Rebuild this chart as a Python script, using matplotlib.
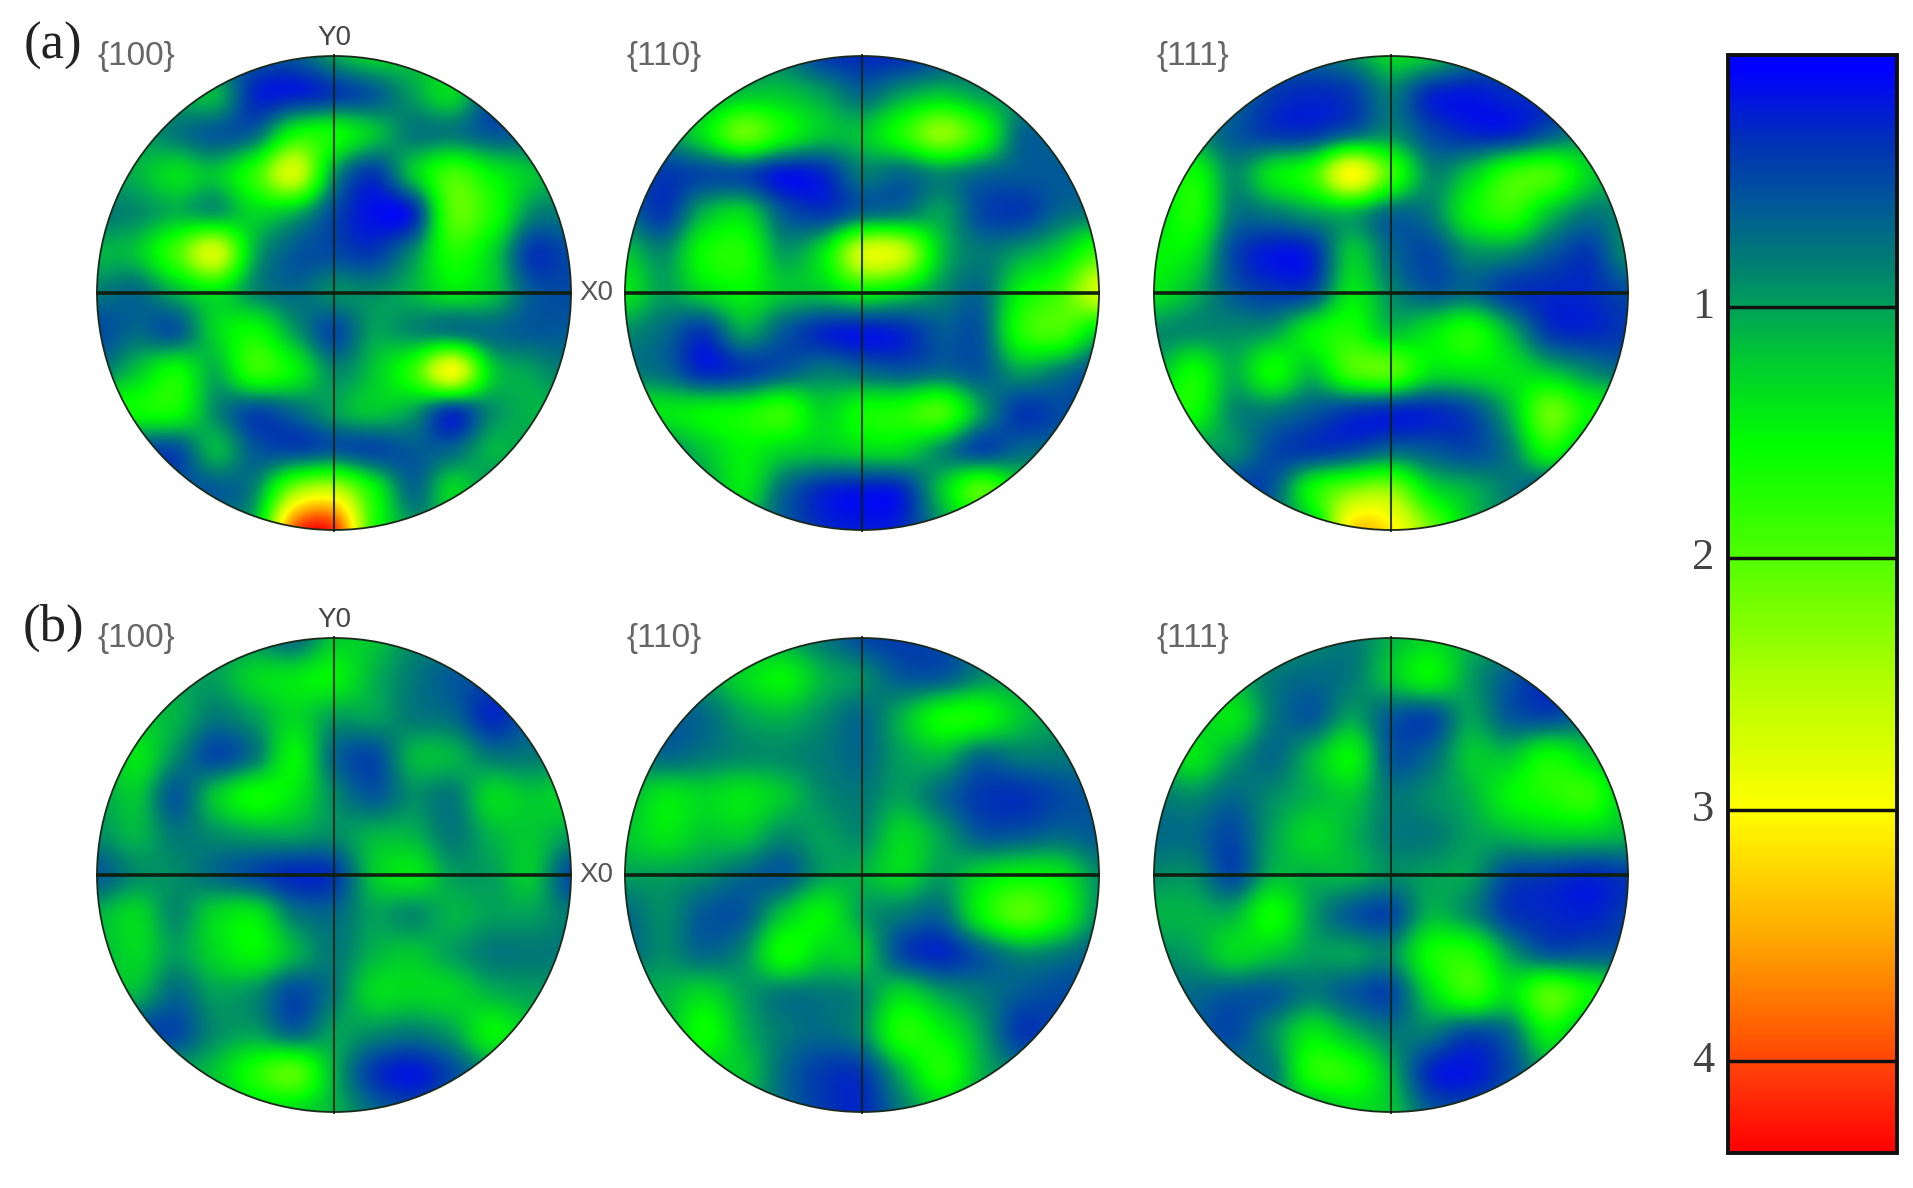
#!/usr/bin/env python3
# -*- coding: utf-8 -*-
import matplotlib
matplotlib.use('Agg')
import matplotlib.pyplot as plt
from matplotlib.colors import LinearSegmentedColormap, Normalize
from matplotlib.cm import ScalarMappable
from matplotlib.patches import Circle
import numpy as np

W, H = 1913, 1188

# pole density on a 13 x 13 grid (top row first)
a_100 = [
	[.6, .6, .6, .6, .6, .6, 1.0, 1.3, 1.2, 1.2, .8, .6, .6],
	[1.0, 1.0, 1.0, 1.1, .3, .25, .4, .6, 1.0, 1.3, .5, .4, .4],
	[1.0, 1.0, .8, .6, .7, 1.6, 1.6, 1.2, .8, .8, .6, .6, .6],
	[1.0, 1.1, 1.35, 1.2, 1.8, 2.7, 1.0, .4, 1.2, 1.9, 1.5, 1.2, 1.0],
	[.8, .9, 1.1, 1.0, 1.3, 1.1, .5, .15, .3, 2.0, 1.7, .9, .8],
	[1.1, 1.2, 1.9, 2.7, 1.1, .6, .5, .4, .9, 1.7, 1.3, .4, .5],
	[.8, .7, 1.1, 1.4, .9, .7, .9, .9, 1.1, 1.4, 1.2, .6, .5],
	[.5, .7, .6, 1.3, 1.6, 1.0, .5, 1.0, .9, .8, .7, .6, .6],
	[.8, 1.2, 1.6, 1.1, 1.8, 1.5, .9, 1.2, 1.8, 2.9, 1.3, 1.0, .8],
	[1.6, 1.6, 1.6, .9, .5, .7, 1.0, 1.2, 1.0, .4, .9, 1.1, 1.1],
	[.5, .5, .5, 1.1, .6, .5, .6, .5, .6, .7, 1.1, 1.0, 1.0],
	[.6, .6, .6, .6, .9, 2.3, 2.6, 1.6, .7, 1.3, .9, .9, .9],
	[.9, .9, .9, .9, 1.2, 3.9, 4.1, 1.8, 1.0, 1.0, .9, .9, .9],
]
a_110 = [
	[.8, .8, .8, .8, .8, .4, .3, .3, .5, .7, .8, .8, .8],
	[.9, .9, 1.0, 1.2, 1.2, 1.0, .7, 1.0, 1.2, 1.0, .9, .8, .8],
	[.9, .9, 1.4, 2.1, 1.6, 1.2, 1.2, 1.7, 2.3, 1.7, .7, .7, .7],
	[.6, .4, .5, .5, .2, .3, .8, .7, .9, .7, .6, .6, .6],
	[.7, .4, 1.1, 1.3, .6, .4, .7, .8, 1.0, .5, .4, .7, .8],
	[1.2, .9, 1.6, 1.7, 1.0, 1.4, 2.7, 2.6, 1.2, .8, 1.0, 1.3, 1.9],
	[1.4, 1.0, 1.3, 1.5, 1.2, 1.2, 1.5, 1.3, .9, .7, 1.5, 1.9, 2.7],
	[.9, .7, .4, 1.0, .6, .3, .2, .3, .6, .6, 1.7, 1.9, 1.3],
	[.8, .7, .3, .4, .6, .8, .7, .6, .7, .6, 1.0, .8, .5],
	[1.4, 1.4, 1.5, 1.6, 1.8, 1.3, 1.6, 1.7, 1.9, 1.0, .4, .5, .5],
	[.9, .9, 1.2, 1.5, 1.3, 1.2, 1.3, 1.3, .9, .5, .7, .7, .7],
	[1.0, 1.0, 1.0, 1.4, .7, .3, .2, .3, 1.2, 2.0, 1.3, 1.0, 1.0],
	[1.0, 1.0, 1.0, 1.0, .6, .3, .2, .3, .9, 1.2, 1.0, 1.0, 1.0],
]
a_111 = [
	[.7, .7, .7, .7, .7, .9, 1.3, 1.2, .8, .6, .5, .5, .5],
	[.8, .8, .7, .4, .3, .4, .8, .3, .2, .3, .3, .3, .3],
	[.9, .9, .6, .4, .4, .7, .9, .5, .3, .3, .6, .9, .9],
	[1.2, 1.6, .9, 1.4, 1.8, 3.0, 1.9, .9, 1.2, 1.8, 1.9, 1.3, 1.0],
	[1.3, 1.7, .8, .8, 1.0, 1.1, .7, .8, 1.5, 1.8, 1.2, .8, .9],
	[1.5, 1.4, .5, .2, .3, 1.2, .7, .5, .9, .9, .6, .4, .9],
	[1.4, 1.1, .6, .4, .5, 1.4, .9, .6, .7, .4, .3, .3, .5],
	[.9, .9, .9, 1.0, 1.5, 1.7, 1.2, 1.4, 1.7, 1.1, .4, .3, .4],
	[1.1, 1.6, 1.1, 1.6, 1.2, 1.9, 2.0, 1.4, 1.4, 1.4, 1.2, .9, .7],
	[1.6, 1.6, .9, .8, .6, .4, .3, .3, .5, 1.1, 2.1, 1.6, 1.6],
	[.9, .9, .9, .5, .4, .5, .7, .6, .5, .8, 1.6, 1.0, 1.0],
	[.5, .5, .4, .6, 1.6, 2.2, 2.3, 1.4, 1.1, .8, .5, .5, .5],
	[.8, .8, .8, .8, 1.2, 3.2, 3.1, 2.2, 1.2, .8, .7, .7, .7],
]
b_100 = [
	[.9, .9, .9, .9, .9, .7, 1.2, 1.2, .9, .8, .7, .7, .7],
	[1.0, 1.0, 1.0, 1.0, 1.3, 1.4, 1.5, 1.1, .8, .6, .5, .5, .5],
	[1.2, 1.2, 1.1, .8, 1.0, 1.3, 1.0, 1.0, .8, .7, .3, .6, .6],
	[1.0, 1.4, .9, .5, .8, 1.5, .7, .5, 1.1, 1.1, .8, .8, .9],
	[1.0, 1.2, .6, 1.2, 1.6, 1.4, .9, .6, .9, .8, 1.3, 1.2, 1.3],
	[.9, 1.1, .8, .9, 1.0, 1.0, .9, 1.1, 1.1, .8, 1.1, 1.2, 1.0],
	[.6, .9, .9, .7, .5, .3, .4, 1.2, 1.4, 1.0, 1.0, 1.2, .5],
	[1.1, 1.3, .9, 1.3, 1.4, .8, .7, 1.0, .9, 1.1, 1.0, 1.0, .8],
	[1.1, 1.3, 1.0, 1.3, 1.5, 1.1, .8, 1.1, 1.2, 1.0, .8, .8, .8],
	[1.1, 1.1, .7, 1.0, .9, .5, .8, 1.3, 1.3, 1.3, 1.1, 1.0, 1.0],
	[.5, .5, .5, .9, 1.0, .7, 1.0, .9, .8, 1.0, 1.5, 1.2, 1.2],
	[1.0, 1.0, 1.0, 1.2, 1.7, 2.0, 1.1, .4, .2, .5, .9, .9, .9],
	[1.0, 1.0, 1.0, 1.0, 1.3, 1.3, 1.1, .7, .5, .7, .9, .9, .9],
]
b_110 = [
	[1.0, 1.0, 1.0, 1.0, 1.0, .8, .5, .4, .5, .7, .9, .9, .9],
	[.8, .9, 1.0, 1.3, 1.5, 1.1, .9, .6, .6, .9, 1.0, 1.0, 1.0],
	[.6, .6, .7, 1.0, 1.1, .9, .7, 1.1, 1.6, 1.6, 1.2, 1.0, 1.0],
	[.9, .7, .8, .9, .9, .8, .7, 1.0, 1.1, .7, .8, .8, .8],
	[1.1, 1.4, 1.3, 1.4, 1.2, .9, .8, 1.0, .7, .4, .35, .5, .6],
	[1.2, 1.4, 1.2, 1.2, .9, 1.0, .9, 1.3, 1.0, .6, .6, .7, .6],
	[1.0, 1.0, .9, .7, .6, 1.0, 1.1, 1.3, 1.0, 1.3, 1.5, 1.4, .9],
	[.7, .9, .6, .6, 1.2, 1.5, 1.0, .8, .7, 1.5, 2.0, 1.6, .9],
	[.7, .9, .7, .9, 1.6, 1.3, 1.2, .5, .3, .6, .9, .8, .6],
	[1.1, 1.1, 1.3, 1.0, .8, .8, .9, 1.3, 1.0, .8, .6, .5, .5],
	[1.1, 1.1, 1.6, 1.1, .8, .7, .9, 1.7, 1.5, 1.0, .4, .5, .5],
	[1.2, 1.2, 1.2, 1.2, .7, .4, .4, 1.1, 1.7, 1.1, .8, .8, .8],
	[1.0, 1.0, 1.0, 1.0, .7, .4, .3, .8, 1.2, 1.0, .9, .9, .9],
]
b_111 = [
	[1.0, 1.0, 1.0, 1.0, .9, .8, 1.1, 1.3, 1.1, .9, .6, .5, .5],
	[1.1, 1.1, 1.1, .8, .7, .8, 1.2, 1.5, 1.0, .6, .3, .4, .4],
	[1.2, 1.2, 1.4, .8, .6, 1.0, .6, .5, 1.0, .6, .5, .7, .7],
	[1.1, 1.4, 1.0, .7, 1.1, 1.5, .6, .7, 1.2, 1.2, 1.6, 1.3, 1.0],
	[.8, .9, .7, .9, 1.1, 1.2, .8, .9, 1.1, 1.5, 1.7, 1.8, 1.2],
	[.7, .7, .5, 1.0, 1.3, 1.1, .8, .8, 1.0, 1.1, 1.2, 1.2, 1.1],
	[.9, .9, .5, 1.1, 1.1, 1.1, .9, 1.0, 1.0, .5, .4, .3, .4],
	[1.1, 1.1, 1.1, 1.6, 1.0, .6, .5, 1.1, .9, .4, .3, .25, .4],
	[.9, 1.0, 1.3, 1.2, 1.0, 1.0, .9, 1.6, 1.7, 1.0, .6, .6, .6],
	[.7, .7, .6, .6, .8, .6, .5, 1.3, 1.8, 1.4, 2.0, 1.6, 1.4],
	[.6, .6, .5, .9, 1.4, 1.1, .8, .8, .5, .7, 1.5, 1.0, 1.0],
	[.8, .8, .8, .8, 1.7, 1.7, 1.1, .3, .2, .5, 1.0, 1.0, 1.0],
	[.9, .9, .9, .9, 1.0, 1.3, 1.2, .6, .5, .7, .9, .9, .9],
]

# colour scale, top of the bar to the bottom
scale_values = [0.0, .05, .35, .6, .85, 1.0, 1.2, 1.55, 2.0, 2.5, 3.0, 3.5, 3.9, 4.05, 4.365]
scale_colors = ['#0000ff', '#0000ff', '#0032b4', '#005a96', '#00826e', '#00a05a', '#00c832',
	'#00ff00', '#50ff00', '#b4ff00', '#ffff00', '#ffaa00', '#ff5a00', '#ff3c0a', '#ff0000']
scale_ticks = [1, 2, 3, 4]

row_labels = ['(a)', '(b)']
pole_labels = ['{100}', '{110}', '{111}']
panels = [[a_100, a_110, a_111], [b_100, b_110, b_111]]
center_x = [334, 862, 1391]
center_y = [293, 875]
radius = 237


def px_axes(fig, left, top, width, height):
	return fig.add_axes([left / W, 1 - (top + height) / H, width / W, height / H])


def fig_text(fig, x, y, s, **kw):
	fig.text(x / W, 1 - y / H, s, ha='center', va='center', **kw)


if __name__ == '__main__':
	fig = plt.figure(figsize=(W / 100, H / 100), dpi=100, facecolor='white')

	vmax = scale_values[-1]
	nodes = [(v / vmax, c) for v, c in zip(scale_values, scale_colors)]
	cmap = LinearSegmentedColormap.from_list('poles', nodes, N=512)
	norm = Normalize(0, vmax)

	for j, row in enumerate(panels):
		for i, grid in enumerate(row):
			pad = radius + 6
			ax = px_axes(fig, center_x[i] - pad, center_y[j] - pad, 2 * pad, 2 * pad)
			ax.axis('off')
			half = 1 + 1 / 12
			# catrom goes through the grid values, bicubic would flatten the peaks
			im = ax.imshow(np.array(grid), cmap=cmap, norm=norm, interpolation='catrom',
				extent=[-half, half, -half, half], origin='upper', aspect='auto')
			disc = Circle((0, 0), 1, transform=ax.transData, fc='none', ec='none')
			ax.add_patch(disc)
			im.set_clip_path(disc)
			ax.set_xlim(-pad / radius, pad / radius)
			ax.set_ylim(-pad / radius, pad / radius)
			ax.add_patch(Circle((0, 0), 1, fc='none', ec='#1a2a1a', lw=1.3))
			ax.plot([-1.005, 1.005], [0, 0], color='#102010', lw=2.6, solid_capstyle='butt')
			ax.plot([0, 0], [-1.01, 1.01], color='#102010', lw=1.5, solid_capstyle='butt', alpha=.85)

			fig_text(fig, center_x[i] - 198, center_y[j] - 237, pole_labels[i],
				family='Liberation Sans', fontsize=24, color='#666666')
		fig_text(fig, center_x[0] + 262, center_y[j], 'X0', family='Liberation Sans',
			fontsize=20, color='#555555')
		fig_text(fig, center_x[0], center_y[j] - 255, 'Y0', family='Liberation Sans',
			fontsize=20, color='#444444')
		fig_text(fig, 53, center_y[j] - 247, row_labels[j], family='Liberation Serif',
			fontsize=38, color='#222222')

	# colour bar
	bar_left, bar_right, bar_top, bar_bottom = 1728, 1897, 55, 1153
	cax = px_axes(fig, bar_left, bar_top, bar_right - bar_left, bar_bottom - bar_top)
	cb = fig.colorbar(ScalarMappable(norm=norm, cmap=cmap), cax=cax, ticks=scale_ticks)
	cax.invert_yaxis()
	cax.yaxis.set_ticks_position('left')
	cax.tick_params(length=0, pad=10, labelsize=32, labelcolor='#444444')
	for t in cax.get_yticklabels():
		t.set_family('Liberation Serif')
		t.set_verticalalignment('center')
	cax.hlines(scale_ticks, 0, 1, transform=cax.get_yaxis_transform(), color='#101010', lw=2.5)
	cb.outline.set_edgecolor('#101010')
	cb.outline.set_linewidth(2.8)

	plt.savefig('out.png', dpi=100)
	plt.close('all')
